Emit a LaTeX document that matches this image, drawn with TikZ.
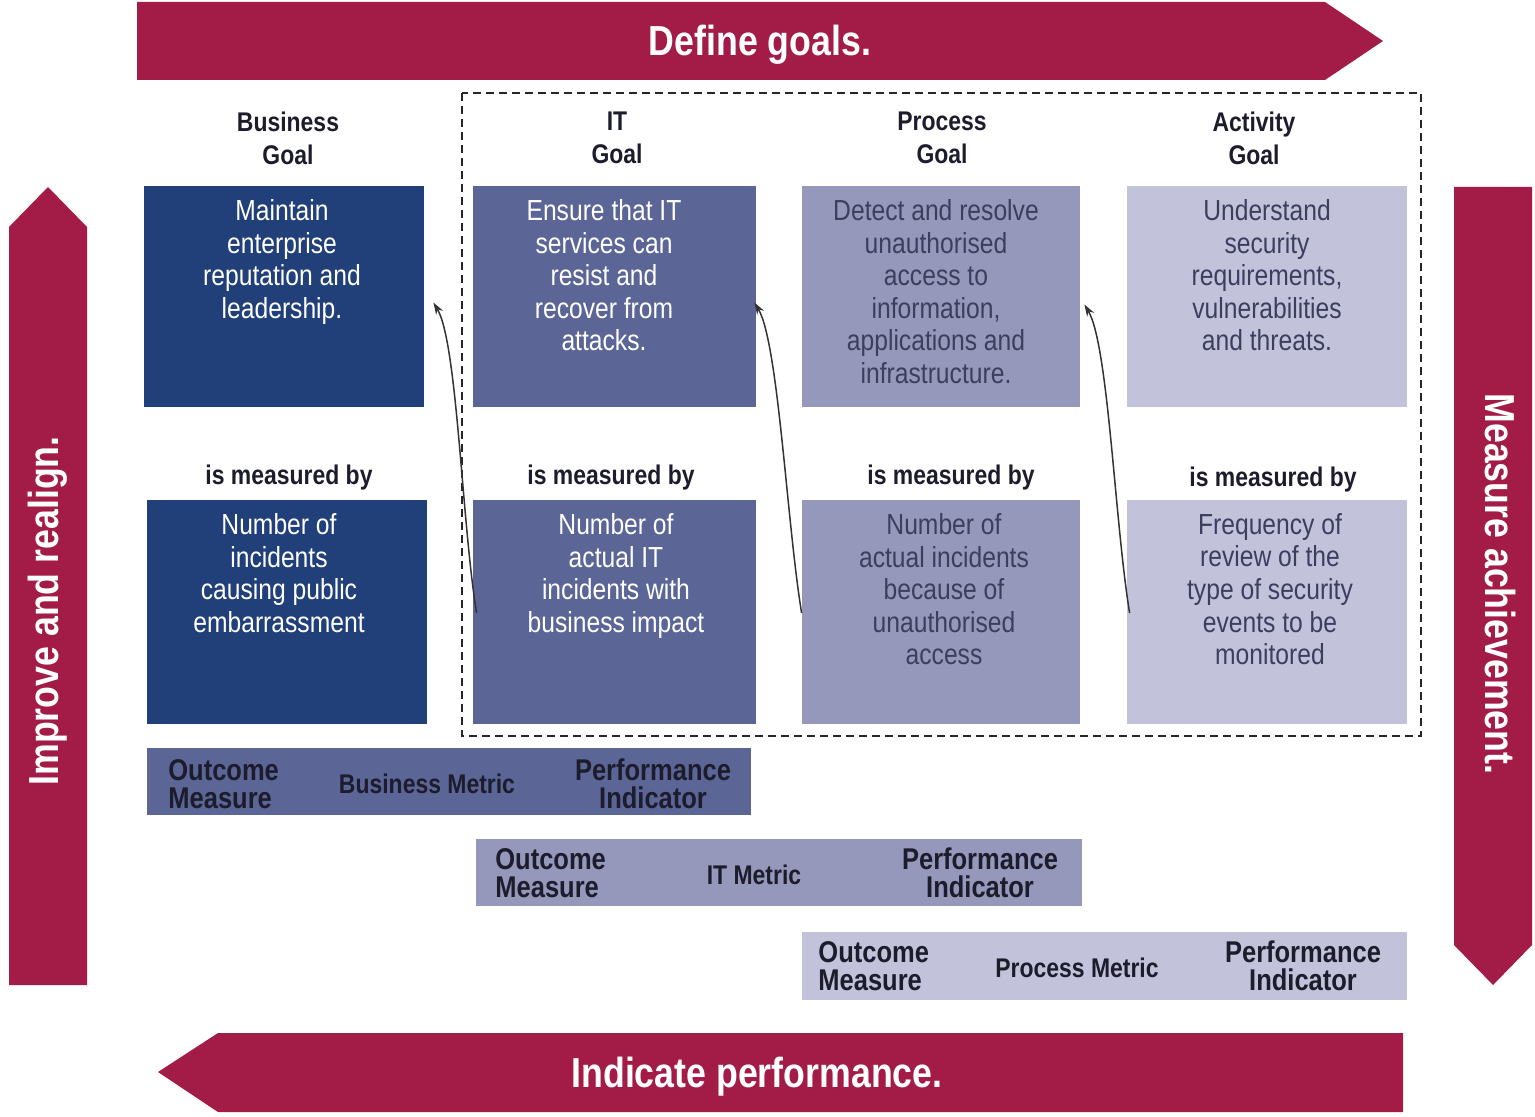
\documentclass[tikz,border=0pt]{standalone}
\usepackage{fontspec}
\setmainfont{Liberation Sans}[FakeStretch=0.85]
\usetikzlibrary{calc,fit,arrows.meta}
\definecolor{crimson}{HTML}{A31C47}
\definecolor{navy}{HTML}{213F78}
\definecolor{slate}{HTML}{5B6697}
\definecolor{lilac}{HTML}{9598BA}
\definecolor{mist}{HTML}{C2C3DA}
\definecolor{ink}{HTML}{1C1C2C}
\definecolor{greyink}{HTML}{3C3E5E}
\begin{document}
\begin{tikzpicture}[x=0.5pt,y=-0.5pt,
  card/.style={inner sep=0pt, draw=none},
  body/.style={inner sep=0pt, anchor=north, align=center,
    font=\fontsize{14.5pt}{16.3pt}\selectfont},
  head/.style={inner sep=0pt, align=center, text=ink,
    font=\bfseries\fontsize{13.5pt}{16.5pt}\selectfont},
  barlabel/.style={inner sep=0pt, text=ink,
    font=\bfseries\fontsize{15pt}{14pt}\selectfont},
  metric/.style={inner sep=0pt, text=ink,
    font=\bfseries\fontsize{13.5pt}{14pt}\selectfont},
  banner/.style={fill=crimson, draw=none},
  bannertext/.style={inner sep=0pt, text=white,
    font=\bfseries\fontsize{21pt}{24pt}\selectfont},
  link/.style={draw=black!80, line width=0.75pt,
    -{Stealth[length=6pt,width=4pt]}},
  scopebox/.style={draw=black!85, line width=0.9pt, dash pattern=on 4pt off 2.5pt}
]
\useasboundingbox (0,0) rectangle (1535,1117);

% ---- banners ----
\fill[banner] (137,2) -- (1325,2) -- (1383,41) -- (1325,80) -- (137,80) -- cycle;
\node[bannertext, anchor=base] (define) at (760,56) {Define goals.};
\fill[banner] (1403,1033) -- (218,1033) -- (158,1072) -- (218,1112) -- (1403,1112) -- cycle;
\node[bannertext, anchor=base] (indicate) at (757,1087) {Indicate performance.};
\fill[banner] (9,985) -- (9,227) -- (48,187) -- (87,227) -- (87,985) -- cycle;
\node[bannertext, rotate=90] (improve) at (48,611) {Improve and realign.};
\fill[banner] (1454,187) -- (1532,187) -- (1532,945) -- (1493,985) -- (1454,945) -- cycle;
\node[bannertext, rotate=-90] (measure) at (1500,584) {Measure achievement.};

% ---- dashed scope ----
\draw[scopebox] (462,93) rectangle (1421,736);

% ---- column headers ----
\node[head] (hb) at (288,138) {Business\\Goal};
\node[head] (hi) at (617,138) {IT\\Goal};
\node[head] (hp) at (942,138) {Process\\Goal};
\node[head] (ha) at (1254,138) {Activity\\Goal};

% ---- goal cards ----
\node[card, fill=navy,  fit={(144,186) (424,407)}] (bg) {};
\node[card, fill=slate, fit={(473,186) (756,407)}] (ig) {};
\node[card, fill=lilac, fit={(802,186) (1080,407)}] (pg) {};
\node[card, fill=mist,  fit={(1127,186) (1407,407)}] (ag) {};

\node[body, text=white] (bgt) at (282,199) {Maintain\\enterprise\\reputation and\\leadership.};
\node[body, text=white] (igt) at (604,199) {Ensure that IT\\services can\\resist and\\recover from\\attacks.};
\node[body, text=greyink] (pgt) at (936,199) {Detect and resolve\\unauthorised\\access to\\information,\\applications and\\infrastructure.};
\node[body, text=greyink] (agt) at (1267,199) {Understand\\security\\requirements,\\vulnerabilities\\and threats.};

% ---- "is measured by" ----
\node[head] (mb) at (289,478) {is measured by};
\node[head] (mi) at (611,478) {is measured by};
\node[head] (mp) at (951,478) {is measured by};
\node[head] (ma) at (1273,480) {is measured by};

% ---- metric cards ----
\node[card, fill=navy,  fit={(147,500) (427,724)}] (bm) {};
\node[card, fill=slate, fit={(473,500) (756,724)}] (im) {};
\node[card, fill=lilac, fit={(802,500) (1080,724)}] (pm) {};
\node[card, fill=mist,  fit={(1127,500) (1407,724)}] (am) {};

\node[body, text=white] (bmt) at (279,513) {Number of\\incidents\\causing public\\embarrassment};
\node[body, text=white] (imt) at (616,513) {Number of\\actual IT\\incidents with\\business impact};
\node[body, text=greyink] (pmt) at (944,513) {Number of\\actual incidents\\because of\\unauthorised\\access};
\node[body, text=greyink] (amt) at (1270,513) {Frequency of\\review of the\\type of security\\events to be\\monitored};

% ---- links from measures up to the goal they support ----
\draw[link] ($(im.west)+(4,1)$) .. controls +(-15,-92) and +(24,40) .. ($(bg.east)+(9,6)$);
\draw[link] ($(pm.west)+(0,1)$) .. controls +(-15,-92) and +(24,40) .. ($(ig.east)+(-2,6)$);
\draw[link] ($(am.west)+(3,1)$) .. controls +(-15,-92) and +(24,40) .. ($(pg.east)+(4,8)$);

% ---- measure bars ----
\node[card, fill=slate, fit={(147,748) (751,815)}] (bar1) {};
\node[card, fill=lilac, fit={(476,839) (1082,906)}] (bar2) {};
\node[card, fill=mist,  fit={(802,932) (1407,1000)}] (bar3) {};

\node[barlabel, anchor=west, align=left] (o1) at (168,784) {Outcome\\Measure};
\node[metric] (m1) at (427,784) {Business Metric};
\node[barlabel, align=center] (p1) at (653,784) {Performance\\Indicator};

\node[barlabel, anchor=west, align=left] (o2) at (495,873) {Outcome\\Measure};
\node[metric] (m2) at (754,875) {IT Metric};
\node[barlabel, align=center] (p2) at (980,873) {Performance\\Indicator};

\node[barlabel, anchor=west, align=left] (o3) at (818,966) {Outcome\\Measure};
\node[metric] (m3) at (1077,968) {Process Metric};
\node[barlabel, align=center] (p3) at (1303,966) {Performance\\Indicator};
\end{tikzpicture}
\end{document}
